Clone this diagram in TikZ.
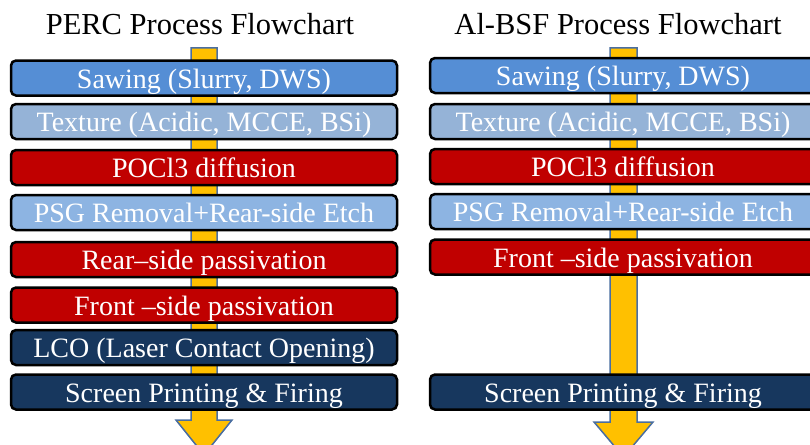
\documentclass[tikz,border=0pt]{standalone}
\usepackage{fontspec}
\setmainfont{Liberation Serif}
\usetikzlibrary{calc}
\definecolor{blumedio}{RGB}{85,142,213}
\definecolor{blutenue}{RGB}{149,179,215}
\definecolor{bluchiaro}{RGB}{141,180,226}
\definecolor{rossoscuro}{RGB}{192,0,0}
\definecolor{blunotte}{RGB}{23,55,94}
\definecolor{oro}{RGB}{255,192,0}
\definecolor{bordofreccia}{RGB}{74,110,160}

\begin{document}
\begin{tikzpicture}[x=1pt,y=-1pt,
    passo/.style={draw=black, line width=2.5pt, rounded corners=5pt, minimum width=386pt, minimum height=35pt, inner sep=0pt, text=white, text height=23pt, text depth=3pt, font=\fontsize{28}{30}\selectfont},
    titolo/.style={anchor=base, font=\fontsize{30.5}{32}\selectfont},
    freccia/.style={fill=oro, draw=bordofreccia, line width=1.5pt}]
        \useasboundingbox (0,0) rectangle (810,444); % dimensioni dell'immagine
        \clip (0,0) rectangle (810,444); % taglia le caselle a destra
        \node[titolo] (titoloL) at (200,35) {PERC Process Flowchart}; % titolo sinistro
        \node[titolo] (titoloR) at (618,35) {Al-BSF Process Flowchart}; % titolo destro
        \coordinate (inizioL) at (204,48); \coordinate (puntaL) at (204,455); % freccia sinistra
        \coordinate (inizioR) at (623.5,48); \coordinate (puntaR) at (623.5,457); % freccia destra
        \draw[freccia] ($(inizioL)+(-13,0)$) -- ($(inizioL)+(13,0)$) -- ($(puntaL)+(13,-35)$) -- ($(puntaL)+(28,-35)$) -- (puntaL) -- ($(puntaL)+(-28,-35)$) -- ($(puntaL)+(-13,-35)$) -- cycle; % freccia gialla PERC
        \draw[freccia] ($(inizioR)+(-13.5,0)$) -- ($(inizioR)+(13.5,0)$) -- ($(puntaR)+(13.5,-35)$) -- ($(puntaR)+(29.5,-35)$) -- (puntaR) -- ($(puntaR)+(-29.5,-35)$) -- ($(puntaR)+(-13.5,-35)$) -- cycle; % freccia gialla Al-BSF
        \node[passo, fill=blumedio] (sawL) at (204,78) {Sawing (Slurry, DWS)}; % colonna PERC
        \node[passo, fill=blutenue] (texL) at (204,121.5) {Texture (Acidic, MCCE, BSi)};
        \node[passo, fill=rossoscuro] (pocL) at (204,167.5) {POCl3 diffusion};
        \node[passo, fill=bluchiaro] (psgL) at (204,212.5) {PSG Removal+Rear-side Etch};
        \node[passo, fill=rossoscuro] (rearL) at (204,259.5) {Rear--side passivation};
        \node[passo, fill=rossoscuro] (frontL) at (204,305) {Front --side passivation};
        \node[passo, fill=blunotte] (lcoL) at (204,347.5) {LCO (Laser Contact Opening)};
        \node[passo, fill=blunotte] (scrL) at (204,392) {Screen Printing \& Firing};
        \node[passo, fill=blumedio] (sawR) at (623,75.5) {Sawing (Slurry, DWS)}; % colonna Al-BSF
        \node[passo, fill=blutenue] (texR) at (623,121.5) {Texture (Acidic, MCCE, BSi)};
        \node[passo, fill=rossoscuro] (pocR) at (623,166.5) {POCl3 diffusion};
        \node[passo, fill=bluchiaro] (psgR) at (623,211.5) {PSG Removal+Rear-side Etch};
        \node[passo, fill=rossoscuro] (frontR) at (623,257) {Front --side passivation};
        \node[passo, fill=blunotte] (scrR) at (623,392) {Screen Printing \& Firing};
    \end{tikzpicture}
\end{document}
